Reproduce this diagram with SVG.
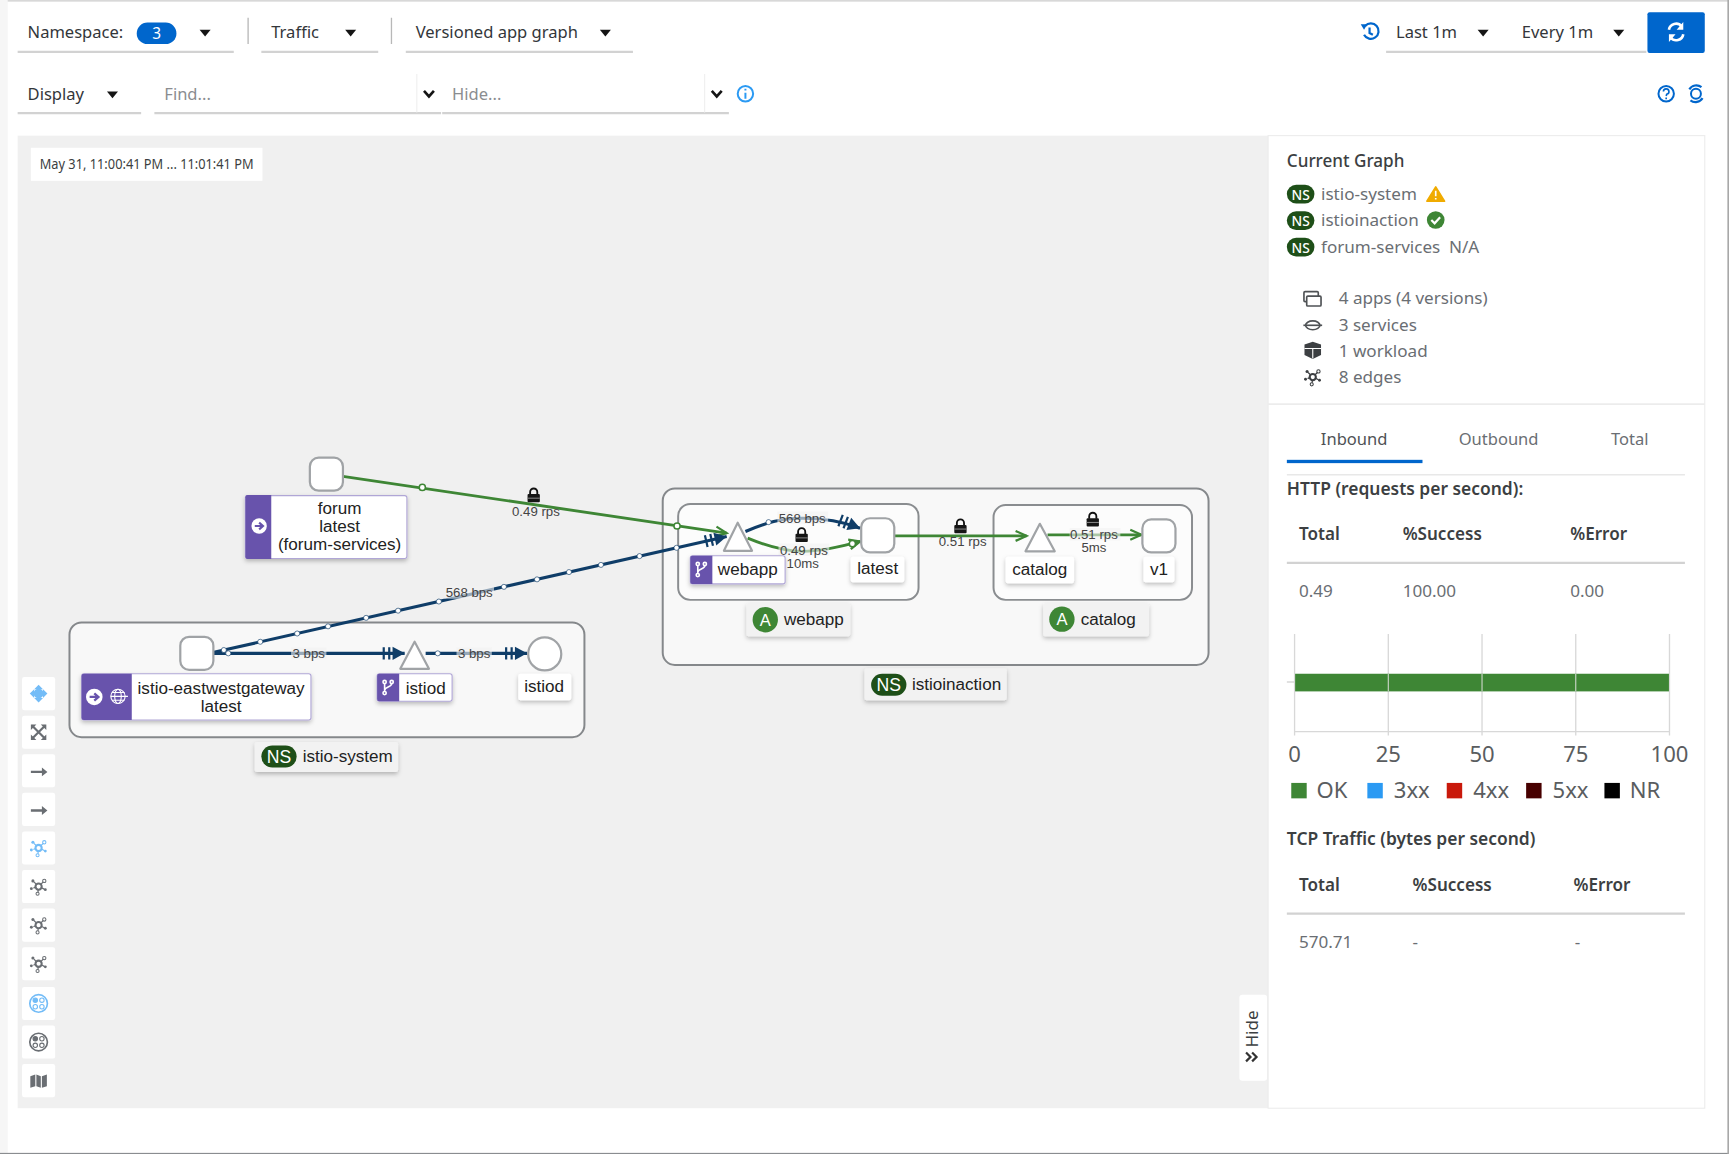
<svg xmlns="http://www.w3.org/2000/svg" width="1729" height="1154" viewBox="0 0 1729 1154">
<style>
text{font-family:"Noto Sans","Liberation Sans",sans-serif;fill:#3c3f42;font-size:15.5px}
.t{font-size:15px;fill:#33363a}
.n{font-family:"Liberation Sans",Arial,sans-serif;fill:#222;font-size:15.5px;text-anchor:middle}
.nl{text-anchor:start}
.e{font-family:"Liberation Sans",Arial,sans-serif;fill:#444;font-size:12px;text-anchor:middle}
.b{font-weight:600}
.h{font-weight:600;font-size:15.8px}
.m{font-weight:500}
.g{fill:#6a6e73}
.ph{fill:#8a8d90;font-size:15px}
.c{text-anchor:middle}
.tab{font-size:15px}
.ax{font-size:20px;fill:#5a5d60}
.box{fill:#fff;stroke:#a0a3a6;stroke-width:2}
.grp{fill:#f8f8f8;stroke:#85888b;stroke-width:1.8}
.sub{fill:#fcfcfc;stroke:#8a8d90;stroke-width:1.8}
.lbl{fill:#fff}
.nsl{fill:#f2f2f2}
.pur{fill:#6753ac}
.grn{fill:none;stroke:#3e8635;stroke-width:2.6}
.blu{fill:none;stroke:#0f3d68;stroke-width:2.8}
.dg{fill:#fff;stroke:#3e8635;stroke-width:1.4}
.db{fill:#fff;stroke:#0f3d68;stroke-width:.6}
.wash{fill:#f2f2f2;opacity:.6}
.tb{fill:#fff}
.ul{stroke:#d2d2d2;stroke-width:2;fill:none}
.grid{stroke:#d8d8d8;stroke-width:1.2;fill:none}
.caret{fill:#151515}
</style>
<defs>
<filter id="sh" x="-15%" y="-20%" width="130%" height="150%"><feDropShadow dx="0" dy="2" stdDeviation="2" flood-color="#000" flood-opacity=".25"/></filter>
<marker id="ag" markerUnits="userSpaceOnUse" markerWidth="14" markerHeight="12" refX="12" refY="6" orient="auto"><path d="M2 1.500 L12 6 L2 10.500" fill="none" stroke="#3e8635" stroke-width="2"/></marker>
<marker id="ab" markerUnits="userSpaceOnUse" markerWidth="24" markerHeight="14" refX="22" refY="7" orient="auto"><path d="M11 1 L22 7 L11 13Z" fill="#0f3d68"/><path d="M3 1.500V12.500M8 1.500V12.500" stroke="#0f3d68" stroke-width="2"/></marker>
<symbol id="lock" viewBox="0 0 14 15" overflow="visible"><path d="M3.500 7V4.500a3.500 3.500 0 0 1 7 0V7" fill="none" stroke="#111" stroke-width="1.800"/><rect x="1" y="6.500" width="12" height="8" rx="1" fill="#151515"/><path d="M1 10.500h12" stroke="#888" stroke-width="1"/></symbol>
<symbol id="caretS" viewBox="0 0 10 6" overflow="visible"><path d="M0 0H10L5 6Z"/></symbol>
<symbol id="topo" viewBox="0 0 16 16" overflow="visible"><circle cx="8" cy="8" r="3" fill="none" stroke="currentColor" stroke-width="2"/><circle cx="2.500" cy="2.500" r="1.500" fill="currentColor"/><circle cx="13.500" cy="2.500" r="1.600" fill="none" stroke="currentColor"/><circle cx="1" cy="10" r="1.400" fill="currentColor"/><circle cx="14.500" cy="11" r="1.400" fill="currentColor"/><circle cx="7" cy="15" r="1.500" fill="none" stroke="currentColor"/><path d="M3.500 3.500L6 6M12.500 3.500L10 6M3 9.500L5 8.500M13.500 10.500L10.500 9M7.500 13.500V11" stroke="currentColor" stroke-width="1.200"/></symbol>
<symbol id="branch" viewBox="0 0 12 16" overflow="visible"><g fill="none" stroke="#fff" stroke-width="1.600"><circle cx="2.500" cy="2.500" r="1.600"/><circle cx="2.500" cy="13.500" r="1.600"/><circle cx="9.500" cy="2.500" r="1.600"/><path d="M2.500 4V12M9.500 4C9.500 8 2.500 7 2.500 11"/></g></symbol>
<symbol id="arrowc" viewBox="0 0 16 16" overflow="visible"><circle cx="8" cy="8" r="8" fill="#fff"/><path d="M3.500 8H11M8 4.500L12 8L8 11.500" fill="none" stroke="#6753ac" stroke-width="2.200"/></symbol>
<symbol id="nspill" viewBox="0 0 32 20" overflow="visible"><rect width="32" height="20" rx="10" fill="#1e4f18"/></symbol>
</defs>

<rect width="1729" height="1154" fill="#fff"/>
<g transform="scale(1.1027)">
<rect x="0" y="0" width="1568" height="1.500" fill="#d8d8d8"/>
<rect x="0" y="0" width="7" height="1047" fill="#f6f6f6"/>
<rect x="0" y="1045.500" width="1568" height="1.500" fill="#8a8d90"/>
<rect x="1566.500" y="0" width="1.500" height="1047" fill="#a8a8a8"/>

<g id="toolbar-top">
<path class="ul" d="M16 47H212M237 47H343M368 47H574M1257 47H1493"/>
<path d="M225 16V40M355 16V40" stroke="#b8b8b8" stroke-width="1.200"/>
<text class="t" x="25" y="34.500">Namespace:</text>
<rect x="124" y="20.500" width="36" height="19.500" rx="9.700" fill="#0066cc"/>
<text x="142" y="35" class="c" style="fill:#fff;font-size:14px">3</text>
<use href="#caretS" x="181" y="27" width="10" height="6" class="caret"/>
<text class="t" x="246" y="34.500">Traffic</text>
<use href="#caretS" x="313" y="27" width="10" height="6" class="caret"/>
<text class="t" x="377" y="34.500">Versioned app graph</text>
<use href="#caretS" x="544" y="27" width="10" height="6" class="caret"/>
<g fill="none" stroke="#0066cc" stroke-width="2"><path d="M1238 23.500a7 7 0 1 1 -1 8"/><path d="M1242 25v5l3 1.500"/></g><path d="M1234 22l6 0l-3 5z" fill="#0066cc"/>
<text class="t" x="1266" y="34.500">Last 1m</text>
<use href="#caretS" x="1340" y="27" width="10" height="6" class="caret"/>
<text class="t" x="1380" y="34.500">Every 1m</text>
<use href="#caretS" x="1463" y="27" width="10" height="6" class="caret"/>
<rect x="1494" y="11" width="52" height="37" rx="2" fill="#0066cc"/>
<g fill="none" stroke="#fff" stroke-width="2.400"><path d="M1513.500 27a6.500 6.500 0 0 1 11.500 -3"/><path d="M1526.500 31a6.500 6.500 0 0 1 -11.500 3"/></g><path d="M1526.500 20v7h-6zM1513.500 38v-7h6z" fill="#fff"/>
</g>

<g id="toolbar-second">
<path class="ul" d="M16 102.500H128M140 102.500H400M401 102.500H661"/>
<path d="M378 67V102M639 67V102" stroke="#efefef" stroke-width="1"/>
<text class="t" x="25" y="90.500">Display</text>
<use href="#caretS" x="97" y="83" width="10" height="6" class="caret"/>
<text x="149" y="90.500" class="ph">Find...</text>
<path d="M384.500 82.500L389 87.500L393.500 82.500" fill="none" stroke="#151515" stroke-width="2.400"/>
<text x="410" y="90.500" class="ph">Hide...</text>
<path d="M645.500 82.500L650 87.500L654.500 82.500" fill="none" stroke="#151515" stroke-width="2.400"/>
<circle cx="676" cy="85" r="7" fill="none" stroke="#2b9af3" stroke-width="1.800"/><path d="M676 84V89.500M676 80.500V82" stroke="#2b9af3" stroke-width="1.800"/>
<circle cx="1511" cy="85" r="7" fill="none" stroke="#0066cc" stroke-width="1.800"/><path d="M1508.500 83a2.500 2.500 0 1 1 3 2.500L1511 87M1511 88.500V90" fill="none" stroke="#0066cc" stroke-width="1.500"/>
<circle cx="1538" cy="85" r="4.500" fill="none" stroke="#0066cc" stroke-width="1.800"/><path d="M1532 81a7.500 7.500 0 0 1 11 -2M1544 89a7.500 7.500 0 0 1 -11 2" fill="none" stroke="#0066cc" stroke-width="2"/>
</g>

<rect id="canvas" x="16" y="123" width="1134" height="882" fill="#f0f0f0"/>
<rect id="timestamp-box" x="28" y="134" width="210" height="30" fill="#fff"/>
<text x="36" y="153" style="font-size:12.500px" textLength="194" lengthAdjust="spacingAndGlyphs">May 31, 11:00:41 PM ... 11:01:41 PM</text>

<g id="graph-tools" color="#6a6e73">
<rect class="tb" x="20" y="614" width="30" height="30" rx="2"/><rect class="tb" x="20" y="649" width="30" height="30" rx="2"/><rect class="tb" x="20" y="684" width="30" height="30" rx="2"/><rect class="tb" x="20" y="719" width="30" height="30" rx="2"/><rect class="tb" x="20" y="754" width="30" height="30" rx="2"/><rect class="tb" x="20" y="789" width="30" height="30" rx="2"/><rect class="tb" x="20" y="824" width="30" height="30" rx="2"/><rect class="tb" x="20" y="859" width="30" height="30" rx="2"/><rect class="tb" x="20" y="895" width="30" height="30" rx="2"/><rect class="tb" x="20" y="930" width="30" height="30" rx="2"/><rect class="tb" x="20" y="965" width="30" height="30" rx="2"/>
<path d="M35 621L39 625H31ZM35 637L39 633H31ZM27 629L31 625V633ZM43 629L39 625V633Z" fill="#73bcf7"/><circle cx="35" cy="629" r="4.500" fill="#73bcf7"/>
<path d="M29 658L41 670M41 658L29 670" stroke="#6a6e73" stroke-width="2"/><path d="M28 657h5l-5 5zM42 657h-5l5 5zM28 671h5l-5 -5zM42 671h-5l5 -5z" fill="#6a6e73"/>
<path d="M28 700H40M28 735H40" stroke="#6a6e73" stroke-width="2.200"/><path d="M38 696L43 700L38 704ZM38 731L43 735L38 739Z" fill="#6a6e73"/>
<use href="#topo" x="27.500" y="761.500" width="15" height="15" color="#73bcf7"/>
<use href="#topo" x="27.500" y="796.500" width="15" height="15"/>
<use href="#topo" x="27.500" y="831.500" width="15" height="15"/>
<use href="#topo" x="27.500" y="866.500" width="15" height="15"/>
<g fill="none" stroke="#73bcf7"><circle cx="35" cy="910" r="8" stroke-width="1.500"/><circle cx="32" cy="907" r="2" fill="#73bcf7"/><circle cx="38" cy="907" r="2"/><circle cx="32" cy="913" r="2"/><circle cx="38" cy="913" r="2"/></g>
<g fill="none" stroke="#6a6e73"><circle cx="35" cy="945" r="8" stroke-width="1.500"/><circle cx="32" cy="942" r="2" fill="#6a6e73"/><circle cx="38" cy="942" r="2"/><circle cx="32" cy="948" r="2"/><circle cx="38" cy="948" r="2"/></g>
<path d="M27.500 976L32 974.500V985L27.500 986.500ZM33 974.500L37 976V986.500L33 985ZM38 976L42.500 974.500V985L38 986.500Z" fill="#6a6e73"/>
</g>

<g id="hide-tab">
<rect x="1124" y="902" width="25" height="78" rx="2.500" fill="#fff"/>
<text transform="translate(1141,950) rotate(-90)" style="font-size:15.500px">Hide</text>
<path d="M1130 954.500L1134 958.500L1130 962.500M1135.500 954.500L1139.500 958.500L1135.500 962.500" fill="none" stroke="#333" stroke-width="2"/>
</g>

<g id="group-istioinaction"><rect class="grp" x="601" y="443" width="495" height="160" rx="11"/></g>
<g id="group-istio-system"><rect class="grp" x="63" y="564.500" width="467" height="104" rx="11"/></g>
<g id="group-app-webapp"><rect class="sub" x="615" y="457" width="218" height="87" rx="11"/></g>
<g id="group-app-catalog"><rect class="sub" x="901" y="458" width="180" height="86" rx="11"/></g>

<g id="connectors">
<path class="grn" d="M311 432L659 483.500" marker-end="url(#ag)"/>
<path class="blu" d="M192 592L659 486.500" marker-end="url(#ab)"/>
<path class="blu" d="M193 592.500H367" marker-end="url(#ab)"/>
<path class="blu" d="M386 592.500H478" marker-end="url(#ab)"/>
<path class="blu" d="M676 482C695 474 708 470 728 470C745 470 762 472 780 479" marker-end="url(#ab)"/>
<path class="grn" d="M678 488C695 495 712 500 728 500C745 500 762 496 780 491" marker-end="url(#ag)"/>
<path class="grn" d="M811 486H931" marker-end="url(#ag)"/>
<path class="grn" d="M950 485H1035" marker-end="url(#ag)"/>
<g id="edge-dots">
<circle class="dg" cx="383" cy="442" r="2.800"/><circle class="dg" cx="614" cy="477" r="2.800"/><circle class="dg" cx="773" cy="493" r="2.800"/>
<circle class="db" cx="203" cy="589.500" r="2.300"/><circle class="db" cx="236" cy="582" r="2.300"/><circle class="db" cx="269.500" cy="574.500" r="2.300"/><circle class="db" cx="297.500" cy="568" r="2.300"/><circle class="db" cx="332" cy="560.300" r="2.300"/><circle class="db" cx="361" cy="553.800" r="2.300"/><circle class="db" cx="398" cy="545.500" r="2.300"/><circle class="db" cx="457" cy="532.200" r="2.300"/><circle class="db" cx="487" cy="525.400" r="2.300"/><circle class="db" cx="516" cy="518.800" r="2.300"/><circle class="db" cx="545" cy="512.300" r="2.300"/><circle class="db" cx="580" cy="504.300" r="2.300"/><circle class="db" cx="613.500" cy="496.800" r="2.300"/>
<circle class="db" cx="207" cy="592.500" r="2.300"/><circle class="db" cx="397" cy="592.500" r="2.300"/><circle class="db" cx="697" cy="473.500" r="2.300"/>
</g>
<g id="edge-labels">
<use href="#lock" x="477.500" y="442" width="13" height="14"/>
<text class="e" x="486" y="468">0.49 rps</text>
<rect class="wash" x="403" y="531" width="45" height="12"/><text class="e" x="425.500" y="541.500">568 bps</text>
<rect class="wash" x="264" y="587" width="32" height="11"/><text class="e" x="280" y="596.500">3 bps</text>
<rect class="wash" x="414" y="587" width="32" height="11"/><text class="e" x="430" y="596.500">3 bps</text>
<rect class="wash" x="705" y="464" width="46" height="11"/><text class="e" x="727.500" y="474">568 bps</text>
<use href="#lock" x="720.500" y="478" width="13" height="14"/>
<rect class="wash" x="706" y="493" width="46" height="11"/><text class="e" x="729" y="503">0.49 rps</text>
<text class="e" x="728" y="515">10ms</text>
<use href="#lock" x="864.500" y="470" width="13" height="14"/>
<text class="e" x="873" y="495">0.51 rps</text>
<use href="#lock" x="984.500" y="464" width="13" height="14"/>
<rect class="wash" x="970" y="479" width="46" height="11"/><text class="e" x="992" y="489">0.51 rps</text>
<text class="e" x="992" y="501">5ms</text>
</g>
</g>

<g id="node-forum">
<rect class="box" x="281" y="415" width="30" height="30" rx="8"/>
<g filter="url(#sh)"><rect class="lbl" x="222.500" y="449.500" width="146.500" height="57" rx="2" stroke="#b0a6d6"/><path class="pur" d="M224.500 449H246V507H224.500a2 2 0 0 1-2-2V451a2 2 0 0 1 2-2Z"/></g>
<use href="#arrowc" x="228" y="470" width="14" height="14"/>
<text class="n" x="308" y="466">forum</text><text class="n" x="308" y="482.500">latest</text><text class="n" x="308" y="499">(forum-services)</text>
</g>

<g id="node-gateway">
<rect class="box" x="163.500" y="577.500" width="30" height="30" rx="8"/>
<g filter="url(#sh)"><rect class="lbl" x="74" y="611" width="208" height="42" rx="2" stroke="#b0a6d6"/><path class="pur" d="M76 611H119.500V653H76a2 2 0 0 1-2-2V613a2 2 0 0 1 2-2Z"/></g>
<use href="#arrowc" x="78" y="624.500" width="15" height="15"/>
<g fill="none" stroke="#fff" stroke-width="1"><circle cx="107" cy="631.500" r="6.500"/><ellipse cx="107" cy="631.500" rx="3" ry="6.500"/><path d="M100.500 631.500H116M101.500 628H113M101.500 635H113"/></g>
<text class="n" x="200.500" y="629">istio-eastwestgateway</text><text class="n" x="200.500" y="646">latest</text>
</g>

<g id="node-istiod-workload">
<path class="box" stroke-linejoin="round" d="M376 582L389 606.500H363Z"/>
<g filter="url(#sh)"><rect class="lbl" x="342" y="611" width="68" height="25" rx="2" stroke="#b0a6d6"/><path class="pur" d="M344 611H362V636H344a2 2 0 0 1-2-2V613a2 2 0 0 1 2-2Z"/></g>
<use href="#branch" x="346.500" y="616" width="11" height="15"/>
<text class="n nl" x="368" y="629">istiod</text>
</g>

<g id="node-istiod-service">
<circle class="box" cx="494" cy="593" r="15"/>
<rect class="lbl" filter="url(#sh)" x="470" y="611" width="48" height="24" rx="2"/>
<text class="n" x="493.500" y="628">istiod</text>
</g>

<g id="node-webapp-service">
<path class="box" stroke-linejoin="round" d="M669 474L682 499.500H656.500Z"/>
<g filter="url(#sh)"><rect class="lbl" x="626" y="504" width="86" height="25.500" rx="2" stroke="#b0a6d6"/><path class="pur" d="M628 504H646V529.500H628a2 2 0 0 1-2-2V506a2 2 0 0 1 2-2Z"/></g>
<use href="#branch" x="630.500" y="509" width="11" height="15"/>
<text class="n nl" x="651" y="521.300">webapp</text>
</g>

<g id="node-webapp-latest">
<rect class="box" x="781" y="470" width="30" height="31" rx="8"/>
<rect class="lbl" filter="url(#sh)" x="771.500" y="505" width="48.500" height="23" rx="2"/>
<text class="n" x="796" y="520.800">latest</text>
</g>

<g id="node-catalog-service">
<path class="box" stroke-linejoin="round" d="M943 475L956.500 500H930Z"/>
<rect class="lbl" filter="url(#sh)" x="912" y="505" width="62" height="24" rx="2"/>
<text class="n" x="943" y="521.300">catalog</text>
</g>

<g id="node-catalog-v1">
<rect class="box" x="1036" y="471" width="30" height="30" rx="8"/>
<rect class="lbl" filter="url(#sh)" x="1037" y="505" width="28" height="23" rx="2"/>
<text class="n" x="1051" y="521.300">v1</text>
</g>

<g id="label-app-webapp"><rect class="nsl" filter="url(#sh)" x="677" y="547" width="94" height="30" rx="2"/><circle cx="694" cy="562" r="11.500" fill="#3e8635"/><text class="n" style="fill:#fff;font-size:15px" x="694" y="567.500">A</text><text class="n nl" x="711" y="567">webapp</text></g>
<g id="label-app-catalog"><rect class="nsl" filter="url(#sh)" x="946" y="547" width="96" height="30" rx="2"/><circle cx="963" cy="561.500" r="11.500" fill="#3e8635"/><text class="n" style="fill:#fff;font-size:15px" x="963" y="567">A</text><text class="n nl" x="980" y="566.500">catalog</text></g>
<g id="label-ns-istioinaction"><rect class="nsl" filter="url(#sh)" x="784" y="606" width="129" height="29" rx="2"/><use href="#nspill" x="790" y="611" width="32" height="20"/><text class="n" style="fill:#fff;font-size:16px" x="806" y="626.500">NS</text><text class="n nl" x="827" y="626">istioinaction</text></g>
<g id="label-ns-istio-system"><rect class="nsl" filter="url(#sh)" x="231" y="673" width="130" height="27" rx="2"/><use href="#nspill" x="237" y="676" width="32" height="20"/><text class="n" style="fill:#fff;font-size:16px" x="253" y="691.500">NS</text><text class="n nl" x="274.500" y="691">istio-system</text></g>

<g id="side-panel">
<rect x="1150" y="123" width="396" height="882" fill="#fff" stroke="#ececec" stroke-width="1"/>
<text x="1167" y="151" class="m">Current Graph</text>
<rect x="1167" y="167.500" width="25" height="17" rx="8.500" fill="#1e4f18"/><text class="c" style="fill:#fff;font-size:12.500px;font-weight:500" x="1179.500" y="181">NS</text><text class="g" x="1198" y="181">istio-system</text>
<path d="M1302 169.500L1310 182.500H1294Z" fill="#f0ab00" stroke="#f0ab00" stroke-width="1.500" stroke-linejoin="round"/><path d="M1302 173V178M1302 179.500V181" stroke="#fff" stroke-width="1.500"/>
<rect x="1167" y="191.500" width="25" height="17" rx="8.500" fill="#1e4f18"/><text class="c" style="fill:#fff;font-size:12.500px;font-weight:500" x="1179.500" y="205">NS</text><text class="g" x="1198" y="205">istioinaction</text>
<circle cx="1302" cy="199.500" r="8" fill="#3e8635"/><path d="M1298 199.500L1301 202.500L1306 197" fill="none" stroke="#fff" stroke-width="2"/>
<rect x="1167" y="215.500" width="25" height="17" rx="8.500" fill="#1e4f18"/><text class="c" style="fill:#fff;font-size:12.500px;font-weight:500" x="1179.500" y="229">NS</text><text class="g" x="1198" y="229">forum-services</text><text class="g" x="1314" y="229">N/A</text>

<g fill="none" stroke="#4f5255" stroke-width="1.500"><rect x="1182.500" y="264.500" width="13" height="9" rx="1"/><rect x="1185" y="268.500" width="13" height="9" rx="1" fill="#fff"/><path d="M1184 295a6.500 4 0 0 1 13 0a6.500 4 0 0 1 -13 0"/><path d="M1182 295H1199"/></g>
<path d="M1183 312.500L1190.500 310L1198 312.500V322L1190.500 325.500L1183 322Z" fill="#3c3f42"/><path d="M1183 316L1198 316M1190.500 316V325" stroke="#fff" stroke-width="1"/>
<use href="#topo" x="1183" y="334.500" width="15" height="15" color="#3c3f42"/>
<text class="g" x="1214" y="276">4 apps (4 versions)</text>
<text class="g" x="1214" y="300">3 services</text>
<text class="g" x="1214" y="323.500">1 workload</text>
<text class="g" x="1214" y="347.500">8 edges</text>
<path d="M1150 366.500H1546" stroke="#ececec" stroke-width="1.500"/>

<text class="c tab" style="fill:#4f5255" x="1228" y="403.500">Inbound</text><text class="c g tab" x="1359" y="403.500">Outbound</text><text class="c g tab" x="1478" y="403.500">Total</text>
<rect x="1167" y="417" width="123" height="3" fill="#0066cc"/>
<path d="M1167 430.500H1528" stroke="#e8e8e8" stroke-width="1.500"/>
<text x="1167" y="448.500" class="h">HTTP (requests per second):</text>
<text class="b" x="1178" y="490">Total</text><text class="b" x="1272" y="490">%Success</text><text class="b" x="1424" y="490">%Error</text>
<path class="ul" d="M1167 510.500H1528"/>
<text class="g" x="1178" y="541.500">0.49</text><text class="g" x="1272" y="541.500">100.00</text><text class="g" x="1424" y="541.500">0.00</text>

<path class="grid" d="M1174 575V667M1259 575V667M1344 575V667M1429 575V667M1514 575V667M1174 663.500H1514M1167 618.500H1174"/>
<rect x="1174.500" y="611" width="339" height="16" fill="#3e8635"/>
<path d="M1259 611V627M1344 611V627M1429 611V627" stroke="#cfd8cc" stroke-width="1"/>
<text class="ax c" x="1174" y="691">0</text><text class="ax c" x="1259" y="691">25</text><text class="ax c" x="1344" y="691">50</text><text class="ax c" x="1429" y="691">75</text><text class="ax c" x="1514" y="691">100</text>
<rect x="1171" y="710" width="14" height="14" fill="#3e8635"/><text class="ax" x="1194" y="724">OK</text>
<rect x="1240" y="710" width="14" height="14" fill="#2b9af3"/><text class="ax" x="1264" y="724">3xx</text>
<rect x="1312" y="710" width="14" height="14" fill="#c9190b"/><text class="ax" x="1336" y="724">4xx</text>
<rect x="1384" y="710" width="14" height="14" fill="#470000"/><text class="ax" x="1408" y="724">5xx</text>
<rect x="1455" y="710" width="14" height="14" fill="#000"/><text class="ax" x="1478" y="724">NR</text>

<text x="1167" y="766" class="h">TCP Traffic (bytes per second)</text>
<text class="b" x="1178" y="808">Total</text><text class="b" x="1281" y="808">%Success</text><text class="b" x="1427" y="808">%Error</text>
<path class="ul" d="M1167 828.500H1528"/>
<text class="g" x="1178" y="860">570.71</text><text class="g" x="1281" y="860">-</text><text class="g" x="1428" y="860">-</text>
</g>
</g>
</svg>
